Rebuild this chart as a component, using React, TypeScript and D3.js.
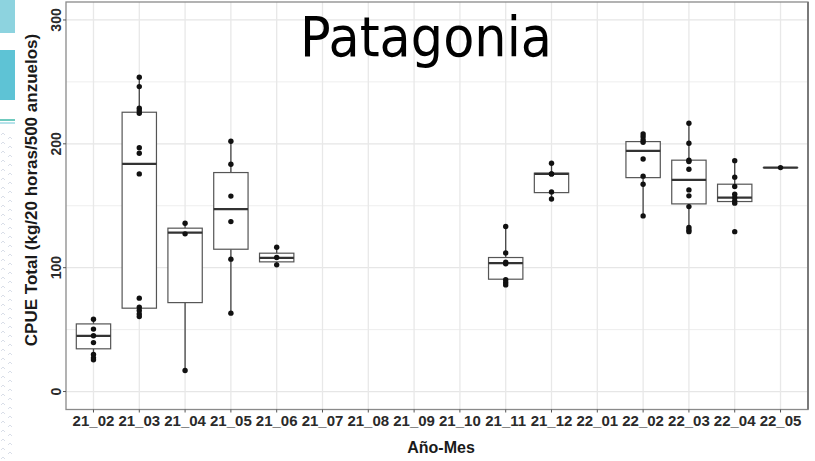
import React from "react";
import * as d3 from "d3";

// Month codes along the x axis (año_mes)
const months = [
  "21_02", "21_03", "21_04", "21_05", "21_06", "21_07", "21_08", "21_09",
  "21_10", "21_11", "21_12", "22_01", "22_02", "22_03", "22_04", "22_05",
];

// Individual CPUE observations per month (empty months had no sets)
const observations: number[][] = [
  [58.4, 50.4, 45, 39.5, 29.9, 27.2, 25.6],
  [253.8, 246.2, 228.7, 226.8, 224.7, 196.9, 192.4, 175.7, 75.4, 68.1, 65.4, 62.7, 60.5],
  [135.9, 127.3, 17],
  [202.1, 183.5, 157.8, 137.2, 106.9, 63.3],
  [116.5, 108.2, 102.3],
  [],
  [],
  [],
  [],
  [133.2, 111.9, 104.4, 103.1, 90.2, 88, 86.1],
  [184.3, 175.7, 175.7, 161.2, 155.5],
  [],
  [208, 205.8, 203.1, 201.3, 187.8, 173.9, 167.4, 141.8],
  [216.6, 200.5, 186.8, 185.7, 179.5, 162.8, 158, 149.3, 132.4, 130.5, 129.1],
  [186.4, 173.1, 165.5, 159.3, 156.6, 153.9, 152.1, 129.1],
  [180.8],
];

// Box summaries per month (null = no data)
const q1: (number | null)[] = [34.5, 67.3, 71.8, 114.9, 104.7, null, null, null, null, 90.7, 160.6, null, 172.7, 151.5, 153.4, 180.8];
const medians: (number | null)[] = [45, 183.8, 128.3, 147.2, 107.9, null, null, null, null, 103.6, 175.7, null, 194.3, 170.9, 156.6, 180.8];
const q3: (number | null)[] = [54.6, 225.5, 131.9, 176.8, 111.7, null, null, null, null, 108.2, 176.3, null, 201.8, 186.8, 167.4, 180.8];
const whiskerLow: (number | null)[] = [25.6, 60.5, 17, 63.3, 102.3, null, null, null, null, 86.1, 155.5, null, 141.8, 129.1, 152.1, 180.8];
const whiskerHigh: (number | null)[] = [58.4, 253.8, 135.9, 202.1, 116.5, null, null, null, null, 133.2, 184.3, null, 208, 216.6, 186.4, 180.8];

const yMajorTicks = [0, 100, 200, 300];
const yMinorTicks = [50, 150, 250];

const title = "Patagonia";
const yTitle = "CPUE Total (kg/20 horas/500 anzuelos)";
const xTitle = "Año-Mes";

const W = 815;
const H = 461;
const panel = { left: 66, right: 808, top: 2, bottom: 409.5 };

export default function App() {
  const x = d3
    .scalePoint<string>()
    .domain(months)
    .range([panel.left, panel.right])
    .padding(0.6);
  const step = x.step();
  const boxW = step * 0.75;

  const y = d3.scaleLinear().domain([-14.5, 314.5]).range([panel.bottom, panel.top]);

  const axisFont = "'Liberation Sans', Arial, sans-serif";

  // faint wavy dots down the left margin
  const deco = d3.range(135, H, 9);

  return (
    <svg
      width={W}
      height={H}
      viewBox={`0 0 ${W} ${H}`}
      style={{ position: "absolute", left: 0, top: 0, display: "block", background: "#fff" }}
    >
      <rect x={0} y={0} width={W} height={H} fill="#fff" />

      {/* slide ornaments on the left edge */}
      <rect x={0} y={0} width={15} height={33} fill="#8dd3df" />
      <rect x={0} y={50} width={15} height={50} fill="#5ec3d5" />
      <line x1={0} x2={15} y1={120} y2={120} stroke="#3fb9a8" strokeWidth={1.5} />
      <line x1={0} x2={15} y1={123} y2={123} stroke="#6fc6d6" strokeWidth={1} />
      {deco.map((d, i) => (
        <g key={`deco-${i}`} stroke="#d9dee8" strokeWidth={1} fill="none">
          <path d={`M1,${d} l2,-2 l2,2`} />
          <path d={`M8,${d + 4} l2,-2 l2,2`} />
        </g>
      ))}

      {/* panel gridlines */}
      {yMinorTicks.map((t) => (
        <line key={`ymin-${t}`} x1={panel.left} x2={panel.right} y1={y(t)} y2={y(t)} stroke="#eeeeee" strokeWidth={1} />
      ))}
      {yMajorTicks.map((t) => (
        <line key={`ymaj-${t}`} x1={panel.left} x2={panel.right} y1={y(t)} y2={y(t)} stroke="#e6e6e6" strokeWidth={1.3} />
      ))}
      {months.map((m) => (
        <line key={`xg-${m}`} x1={x(m)} x2={x(m)} y1={panel.top} y2={panel.bottom} stroke="#e8e8e8" strokeWidth={1.3} />
      ))}

      {/* boxes */}
      {months.map((m, i) => {
        const lo = q1[i], md = medians[i], hi = q3[i], wl = whiskerLow[i], wh = whiskerHigh[i];
        if (lo == null || md == null || hi == null || wl == null || wh == null) return null;
        const cx = x(m) as number;
        return (
          <g key={`box-${m}`}>
            <line x1={cx} x2={cx} y1={y(hi)} y2={y(wh)} stroke="#444" strokeWidth={1.3} />
            <line x1={cx} x2={cx} y1={y(lo)} y2={y(wl)} stroke="#444" strokeWidth={1.3} />
            <rect
              x={cx - boxW / 2}
              y={y(hi)}
              width={boxW}
              height={Math.max(0.01, y(lo) - y(hi))}
              fill="#fff"
              stroke="#555"
              strokeWidth={1.2}
            />
            <line x1={cx - boxW / 2} x2={cx + boxW / 2} y1={y(md)} y2={y(md)} stroke="#333" strokeWidth={2.2} />
          </g>
        );
      })}

      {/* observations */}
      {months.map((m, i) =>
        observations[i].map((v, j) => (
          <circle key={`pt-${m}-${j}`} cx={x(m)} cy={y(v)} r={2.7} fill="#111" />
        ))
      )}

      {/* panel border */}
      <rect
        x={panel.left}
        y={panel.top}
        width={panel.right - panel.left}
        height={panel.bottom - panel.top}
        fill="none"
        stroke="#8a8a8a"
        strokeWidth={1.3}
      />
      <line x1={panel.right} x2={panel.right} y1={panel.top} y2={panel.bottom} stroke="#7a7a7a" strokeWidth={2} />

      {/* y axis ticks and labels */}
      {yMajorTicks.map((t) => (
        <g key={`yt-${t}`}>
          <line x1={panel.left - 3} x2={panel.left} y1={y(t)} y2={y(t)} stroke="#555" strokeWidth={1} />
          <text
            transform={`translate(${panel.left - 5},${y(t)}) rotate(-90)`}
            textAnchor="middle"
            fontFamily={axisFont}
            fontWeight="bold"
            fontSize={14}
            fill="#2a2a2a"
          >
            {t}
          </text>
        </g>
      ))}

      {/* x axis ticks and labels */}
      {months.map((m) => (
        <g key={`xt-${m}`}>
          <line x1={x(m)} x2={x(m)} y1={panel.bottom} y2={panel.bottom + 3} stroke="#555" strokeWidth={1} />
          <text
            x={x(m)}
            y={426}
            textAnchor="middle"
            fontFamily={axisFont}
            fontWeight="bold"
            fontSize={15}
            fill="#2a2a2a"
          >
            {m}
          </text>
        </g>
      ))}

      {/* axis titles */}
      <text
        x={441}
        y={453}
        textAnchor="middle"
        fontFamily={axisFont}
        fontWeight="bold"
        fontSize={16}
        fill="#1a1a1a"
      >
        {xTitle}
      </text>
      <text
        transform={`translate(37,190) rotate(-90)`}
        textAnchor="middle"
        fontFamily={axisFont}
        fontWeight="bold"
        fontSize={17}
        fill="#1a1a1a"
      >
        {yTitle}
      </text>

      {/* slide title */}
      <text
        x={300}
        y={56}
        fontFamily="'DejaVu Sans', 'Noto Sans', sans-serif"
        fontSize={55}
        textLength={252}
        lengthAdjust="spacingAndGlyphs"
        fill="#000"
      >
        {title}
      </text>
    </svg>
  );
}
